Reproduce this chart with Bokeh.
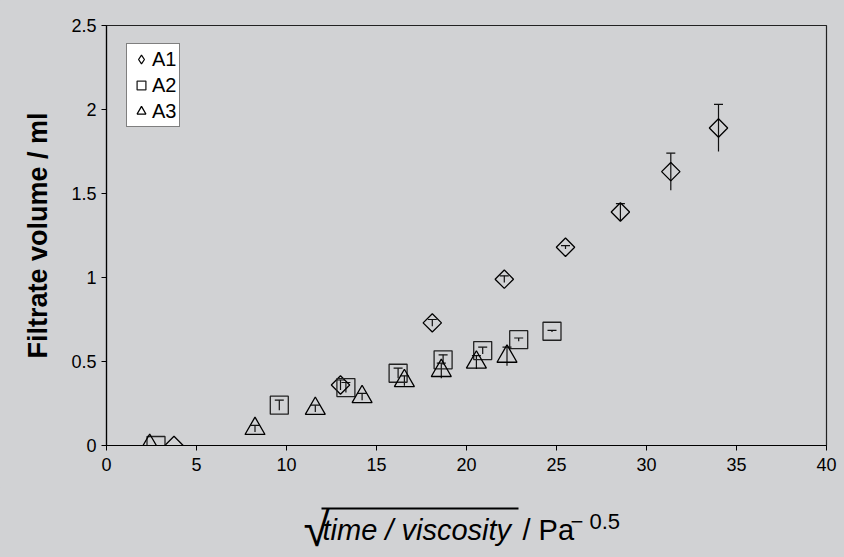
import numpy as np
from bokeh.plotting import figure
from bokeh.models import (Range1d, FixedTicker, Legend, LegendItem, Label,
                          BoxAnnotation, ColumnDataSource)
from bokeh.layouts import column
from bokeh.embed import file_html
from bokeh.resources import INLINE

# ---- data ----
a1_x = [3.75, 13.0, 18.1, 22.1, 25.5, 28.55, 31.35, 34.0]
a1_y = [0.0, 0.36, 0.73, 0.99, 1.18, 1.39, 1.63, 1.89]
a1_err = [0.0, 0.03, 0.02, 0.02, 0.01, 0.05, 0.11, 0.14]

a2_x = [2.75, 9.6, 13.3, 16.2, 18.7, 20.9, 22.9, 24.75]
a2_y = [0.0, 0.24, 0.345, 0.43, 0.51, 0.565, 0.63, 0.68]
a2_err = [0.0, 0.03, 0.03, 0.03, 0.03, 0.02, 0.01, 0.005]

a3_x = [2.4, 8.25, 11.6, 14.2, 16.55, 18.6, 20.55, 22.25]
a3_y = [0.0, 0.10, 0.22, 0.29, 0.385, 0.445, 0.495, 0.53]
a3_err = [0.0, 0.02, 0.02, 0.02, 0.03, 0.045, 0.04, 0.055]

series_names = ["A1", "A2", "A3"]
x_ticks = [0, 5, 10, 15, 20, 25, 30, 35, 40]
y_ticks = [0, 0.5, 1, 1.5, 2, 2.5]
y_tick_labels = ["0", "0.5", "1", "1.5", "2", "2.5"]

BG = "#d1d2d4"
FONT = "Liberation Sans"

W = 844
H1 = 487                 # main figure height
H2 = 557 - H1            # 70, strip holding the x-axis title
ML, MR, MT, MB = 106, 18, 25, 42

p = figure(width=W, height=H1, output_backend="svg", toolbar_location=None,
           x_range=Range1d(0, 40), y_range=Range1d(0, 2.5),
           min_border_left=ML, min_border_right=MR,
           min_border_top=MT, min_border_bottom=MB)
p.background_fill_color = BG
p.border_fill_color = BG
p.outline_line_color = "#222222"
p.outline_line_width = 1.2
p.grid.visible = False
# a range far away from the frame, only used for the A1 legend glyph
p.extra_y_ranges = {"legend_only": Range1d(100, 101)}

for ax in (p.xaxis[0], p.yaxis[0]):
    ax.axis_line_color = "black"
    ax.axis_line_width = 1.2
    ax.major_tick_line_color = "black"
    ax.major_tick_out = 5
    ax.major_tick_in = 0
    ax.minor_tick_line_color = None
    ax.major_label_text_font = FONT
    ax.major_label_text_font_size = "18px"
    ax.major_label_text_color = "black"

p.xaxis.ticker = FixedTicker(ticks=x_ticks)
p.xaxis.major_label_standoff = 7
p.yaxis.ticker = FixedTicker(ticks=y_ticks)
p.yaxis.major_label_overrides = {t: l for t, l in zip(y_ticks, y_tick_labels)}
p.yaxis.major_label_standoff = 5
p.yaxis.axis_label = "Filtrate volume / ml"
p.yaxis.axis_label_text_font = FONT
p.yaxis.axis_label_text_font_style = "bold"
p.yaxis.axis_label_text_font_size = "27px"
p.yaxis.axis_label_text_color = "black"
p.yaxis.axis_label_standoff = 15


def errorbars(xs, ys, es):
    src = ColumnDataSource(dict(x=xs, lo=[y - e for y, e in zip(ys, es)],
                                hi=[y + e for y, e in zip(ys, es)]))
    p.segment(x0="x", y0="lo", x1="x", y1="hi", source=src,
              line_color="#111111", line_width=1.2)
    p.scatter(x="x", y="hi", source=src, marker="dash", size=9,
              line_color="#111111", line_width=1.2)


errorbars(a1_x, a1_y, a1_err)
errorbars(a2_x, a2_y, a2_err)
errorbars(a3_x, a3_y, a3_err)

# A1 drawn as a square turned by 45 degrees (equal-sided diamond)
p.scatter(a1_x, a1_y, marker="square", angle=np.pi / 4, size=13,
          fill_alpha=0, line_color="black", line_width=1.3)
# legend glyph for A1 (mapped onto a range outside the frame, so not visible)
r1 = p.scatter(a1_x, a1_y, marker="diamond", size=13, fill_alpha=0,
               line_color="black", line_width=1.2, y_range_name="legend_only")
r2 = p.scatter(a2_x, a2_y, marker="square", size=18,
               fill_alpha=0, line_color="#222222", line_width=1.3)
r3 = p.scatter(a3_x, a3_y, marker="triangle", size=20,
               fill_alpha=0, line_color="black", line_width=1.3)

legend = Legend(items=[LegendItem(label=series_names[0], renderers=[r1]),
                       LegendItem(label=series_names[1], renderers=[r2]),
                       LegendItem(label=series_names[2], renderers=[r3])],
                location=(20, 318))
legend.border_line_color = "black"
legend.border_line_width = 1
legend.background_fill_color = "white"
legend.background_fill_alpha = 1
legend.label_text_font = FONT
legend.label_text_font_size = "20px"
legend.label_text_color = "black"
legend.glyph_width = 22
legend.glyph_height = 24
legend.label_height = 24
legend.label_standoff = 0
legend.spacing = 2
legend.padding = 3
legend.margin = 0
p.add_layout(legend, "center")

# ---- strip below holding the x-axis title (coords = page pixels) ----
FL = ML
FR = W - MR
p2 = figure(width=W, height=H2, output_backend="svg", toolbar_location=None,
            x_range=Range1d(FL, FR), y_range=Range1d(H1 + H2, H1),
            x_axis_location=None, y_axis_location=None,
            min_border_left=ML, min_border_right=MR,
            min_border_top=0, min_border_bottom=0)
p2.background_fill_color = BG
p2.border_fill_color = BG
p2.outline_line_color = None
p2.grid.visible = False

DY = 12   # measured offset of the label baseline
p2.add_layout(Label(x=303, y=541 - DY, text="\u221a", text_font=FONT,
                    text_font_size="48px", text_color="black",
                    text_baseline="alphabetic"))
p2.add_layout(Label(x=322, y=541 - DY, text="time / viscosity", text_font=FONT,
                    text_font_size="29px", text_font_style="italic",
                    text_color="black", text_baseline="alphabetic"))
p2.add_layout(Label(x=522, y=541 - DY, text="/ Pa", text_font=FONT,
                    text_font_size="29px", text_color="black",
                    text_baseline="alphabetic"))
p2.add_layout(Label(x=570, y=533 - DY, text="\u2212 0.5", text_font=FONT,
                    text_font_size="22px", text_color="black",
                    text_baseline="alphabetic"))
p2.add_layout(BoxAnnotation(left=321, right=518, top=507, bottom=509,
                            fill_color="black", fill_alpha=1, line_alpha=0))

layout = column(p, p2, spacing=0, styles={"background-color": BG})

open("out.html", "w").write(file_html(layout, INLINE))
